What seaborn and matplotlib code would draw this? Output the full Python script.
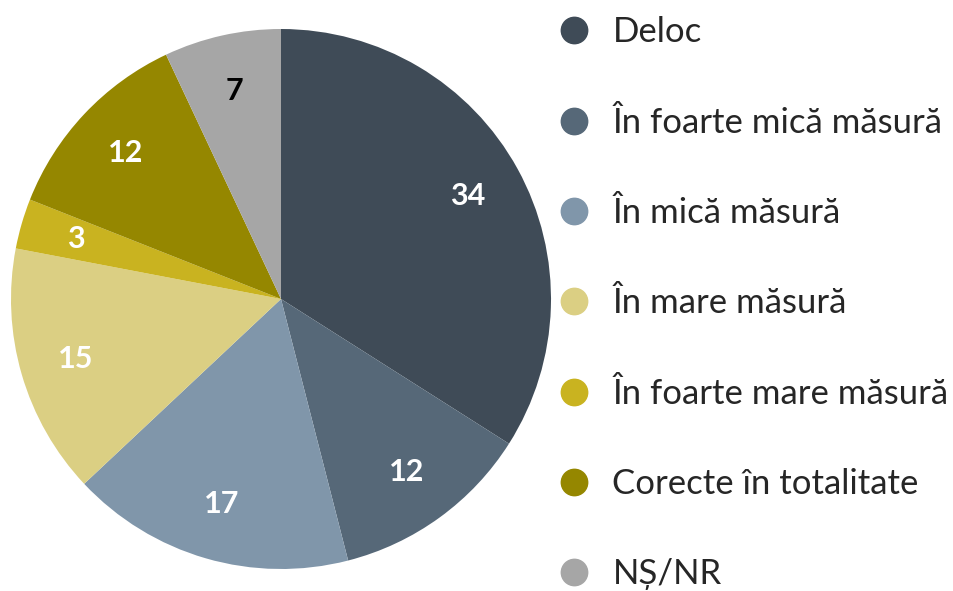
import matplotlib
matplotlib.use('Agg')
import matplotlib.pyplot as plt
from matplotlib.lines import Line2D
import seaborn as sns

categories = ['Deloc', 'În foarte mică măsură', 'În mică măsură', 'În mare măsură',
              'În foarte mare măsură', 'Corecte în totalitate', 'NȘ/NR']
values = [34, 12, 17, 15, 3, 12, 7]
colors = ['#3F4B57', '#566878', '#8096AA', '#DBCF83', '#C9B320', '#958700', '#A6A6A6']
label_colors = ['white', 'white', 'white', 'white', 'white', 'white', 'black']

sns.set_theme(style='white')
plt.rcParams['font.family'] = ['Lato', 'DejaVu Sans']

fig = plt.figure(figsize=(9.54, 5.91), dpi=100)
ax = fig.add_axes([11 / 954, 22 / 591, 540 / 954, 540 / 591])

wedges, texts, autotexts = ax.pie(
    values,
    colors=colors,
    startangle=90,
    counterclock=False,
    autopct=lambda p: f'{p:.0f}',
    pctdistance=0.79,
    wedgeprops={'linewidth': 0},
    textprops={'fontsize': 22, 'fontweight': 'bold'},
)
for t, c in zip(autotexts, label_colors):
    t.set_color(c)
ax.set_xlim(-1, 1)
ax.set_ylim(-1, 1)
ax.set_aspect('equal')

handles = [Line2D([], [], marker='o', linestyle='', markersize=19,
                  markerfacecolor=c, markeredgecolor=c) for c in colors]
fig.legend(handles, categories, loc='upper left',
           bbox_to_anchor=(536 / 954, 1 + 4.4 / 591),
           frameon=False, fontsize=25, labelspacing=1.68, handletextpad=0.6,
           handlelength=1.0, borderaxespad=0.2)

fig.savefig('out.png', dpi=100)
